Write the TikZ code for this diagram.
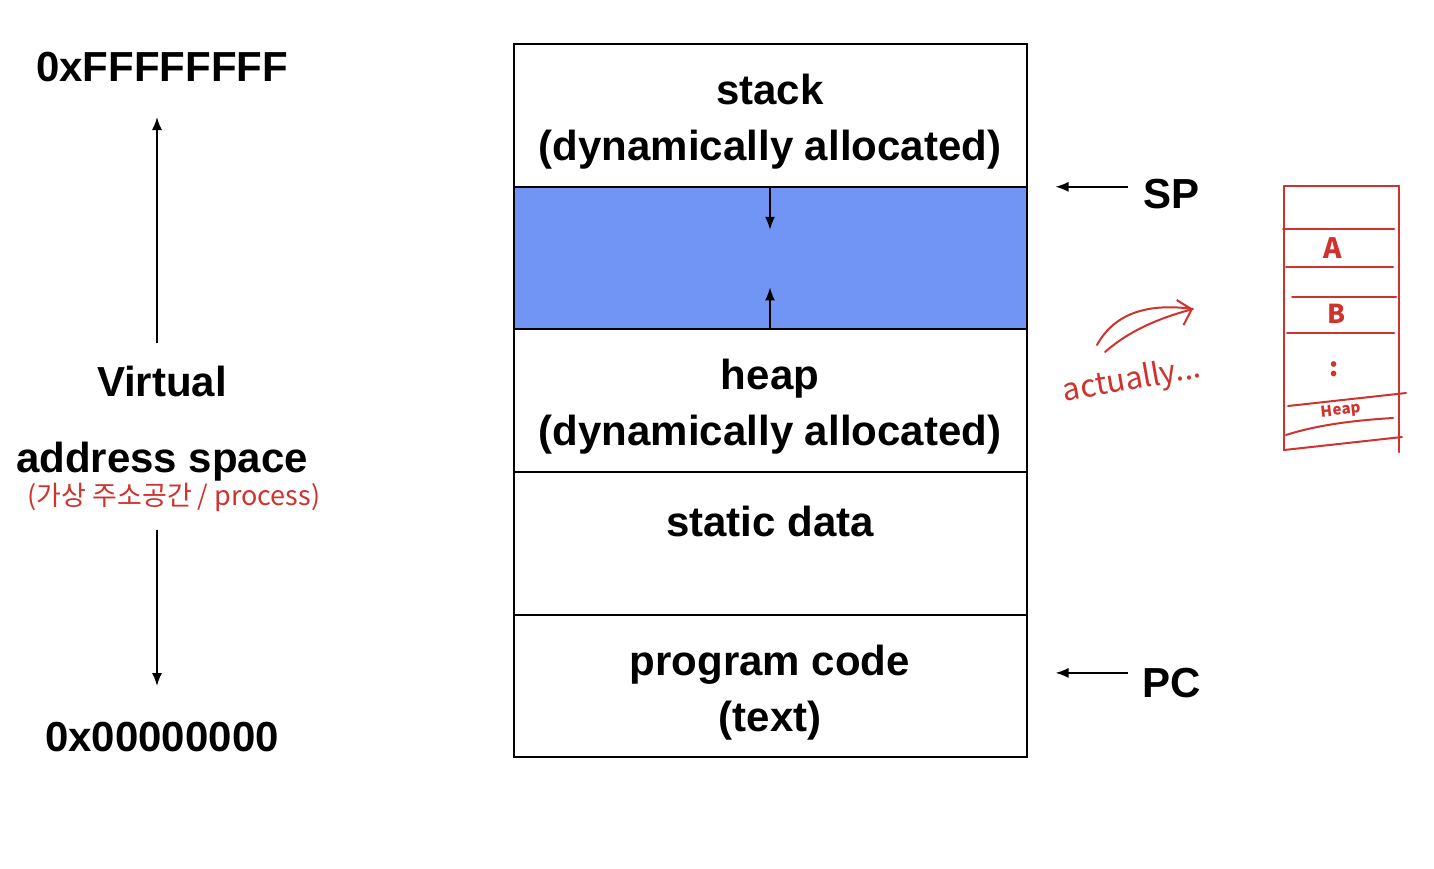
\documentclass[tikz,border=0pt]{standalone}
\usepackage{fontspec}
\setmainfont{Liberation Sans}
\newfontfamily\kofont{Noto Sans CJK KR}
\usetikzlibrary{arrows.meta,calc,positioning}
\definecolor{gapblue}{RGB}{112,149,245}
\definecolor{handred}{RGB}{208,50,45}

\begin{document}
\begin{tikzpicture}[x=1pt, y=-1pt,
  seg/.style={draw, line width=2pt, minimum width=513pt, minimum height=142.6pt,
              outer sep=0pt, inner sep=0pt, align=center, text height=99pt,
              font=\bfseries\fontsize{42}{56}\selectfont},
  lbl/.style={inner sep=0pt, font=\bfseries\fontsize{42}{50}\selectfont},
  ptr/.style={line width=1.6pt, -{Latex[length=13pt,width=10pt]}},
  hand/.style={handred, line width=2pt, line cap=round},
  handtxt/.style={handred, inner sep=0pt, font=\kofont\fontsize{27}{30}\selectfont}]

\useasboundingbox (0,0) rectangle (1434,868);

% --- Memory layout ---
\node[seg] (stack) at (770,115.5) {stack\\(dynamically allocated)};
\node[seg, fill=gapblue, below=0pt of stack] (gap) {};
\node[seg, below=0pt of gap] (heap) {heap\\(dynamically allocated)};
\node[seg, below=0pt of heap] (static) {static data\\ \mbox{}};
\node[seg, below=0pt of static] (code) {program code\\(text)};
% stack grows down, heap grows up
\draw[ptr] (gap.north) -- ++(0,43);
\draw[ptr] (gap.south) -- ++(0,-42);

% --- Address range ---
\node[lbl] (hi) at (162,67) {0xFFFFFFFF};
\node[lbl] (virt) at (162,381) {Virtual};
\node[lbl] (addr) at (162,462) {address space};
\node[handtxt] (kor) at (174,497) {(가상 주소공간 / process)};
\node[lbl] (lo) at (162,737) {0x00000000};
\coordinate (uptail) at (157,343);
\coordinate (uptip) at (157,117);
\coordinate (dntail) at (157,530);
\coordinate (dntip) at (157,686);
\draw[ptr] (uptail) -- (uptip);
\draw[ptr] (dntail) -- (dntip);

% --- Registers ---
\node[lbl] (sp) at (1171,194) {SP};
\node[lbl] (pc) at (1172,683) {PC};
\draw[ptr] ([xshift=101pt]gap.north east) -- ([xshift=29pt]gap.north east);
\draw[ptr] ([shift={(101pt,13pt)}]code.east) -- ([shift={(29pt,13pt)}]code.east);

% --- Handwritten note ---
\node[handtxt, font=\kofont\fontsize{31}{34}\selectfont, rotate=10] (act) at (1132,381) {actually...};
\coordinate (curvefrom) at (1097,345);
\coordinate (curveto) at (1193,309);
\draw[hand] (curvefrom) .. controls (1115,312) and (1150,303) .. (curveto);
\draw[hand, -{Straight Barb[length=12pt,width=26pt]}] (1105,352) .. controls (1130,330) and (1160,318) .. (curveto);

% red stack sketch
\draw[hand] (1284,186) -- (1399,186);
\draw[hand] (1284,186) -- (1284,450);
\draw[hand] (1399,186) -- (1399,452);
\draw[hand] (1283,229) -- (1394,229);
\draw[hand] (1286,267) -- (1393,267);
\draw[hand] (1292,297) -- (1396,297);
\draw[hand] (1287,333) -- (1394,333);
\draw[hand] (1288,406) -- (1406,393);
\draw[hand] (1286,435) .. controls (1320,424) and (1360,420) .. (1393,418);
\draw[hand] (1284,450) -- (1402,437);
\node[handtxt, font=\kofont\bfseries\fontsize{28}{30}\selectfont] (cella) at (1333,248) {A};
\node[handtxt, font=\kofont\bfseries\fontsize{26}{28}\selectfont] (cellb) at (1337,314) {B};
\node[handtxt, font=\kofont\bfseries\fontsize{26}{28}\selectfont] (dots) at (1334,369) {:};
\node[handtxt, font=\kofont\bfseries\itshape\fontsize{15}{16}\selectfont, rotate=6] (cellheap) at (1341,411) {Heap};

\end{tikzpicture}
\end{document}
